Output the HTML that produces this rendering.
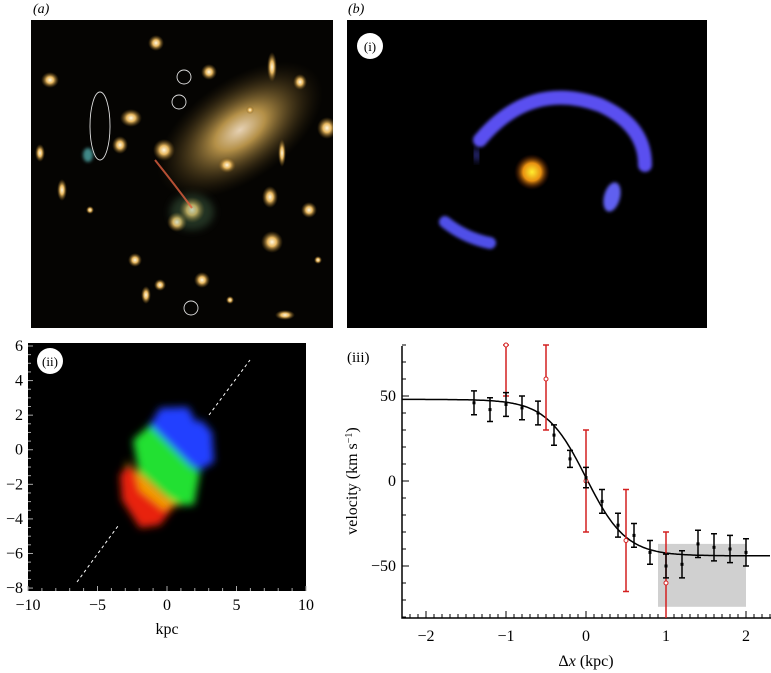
<!DOCTYPE html>
<html><head><meta charset="utf-8"><style>
body{margin:0;width:771px;height:673px;background:#fff;overflow:hidden;font-family:"Liberation Serif",serif;}
svg{position:absolute;left:0;top:0;font-family:"Liberation Serif",serif}
text{font-family:"Liberation Serif",serif}
</style></head><body>
<svg width="771" height="673" viewBox="0 0 771 673">
<defs>
<filter id="b1" x="-50%" y="-50%" width="200%" height="200%"><feGaussianBlur stdDeviation="1.5"/></filter>
<filter id="b3" x="-50%" y="-50%" width="200%" height="200%"><feGaussianBlur stdDeviation="4"/></filter>
<radialGradient id="gal"><stop offset="0" stop-color="#fff8e0"/><stop offset="0.4" stop-color="#e8b860"/><stop offset="1" stop-color="#6a4a10" stop-opacity="0"/></radialGradient>
<radialGradient id="bcg"><stop offset="0" stop-color="#ffe8c8"/><stop offset="0.3" stop-color="#c8a050"/><stop offset="1" stop-color="#403010" stop-opacity="0"/></radialGradient>
<radialGradient id="core"><stop offset="0" stop-color="#ffee30"/><stop offset="0.5" stop-color="#e89010"/><stop offset="1" stop-color="#501000" stop-opacity="0"/></radialGradient>
<clipPath id="ca"><rect x="31" y="20" width="302" height="308"/></clipPath>
<clipPath id="cii"><rect x="28" y="343" width="278" height="248"/></clipPath>
</defs>

<text x="33" y="13" font-size="14" font-style="italic">(a)</text>
<g clip-path="url(#ca)">
<rect x="31" y="20" width="302" height="308" fill="#050402"/>
<ellipse cx="240" cy="130" rx="95" ry="50" transform="rotate(-35 240 130)" fill="url(#bcg)" opacity="0.9"/>
<g fill="url(#gal)">
<ellipse cx="50" cy="80" rx="9" ry="8"/><ellipse cx="131" cy="118" rx="11" ry="9"/><ellipse cx="164" cy="150" rx="11" ry="11"/>
<ellipse cx="227" cy="165" rx="9" ry="8"/><ellipse cx="192" cy="210" rx="13" ry="13"/><ellipse cx="272" cy="67" rx="5" ry="15"/>
<ellipse cx="327" cy="128" rx="10" ry="11"/><ellipse cx="282" cy="153" rx="4" ry="14"/><ellipse cx="270" cy="197" rx="8" ry="11"/>
<ellipse cx="272" cy="242" rx="11" ry="11"/><ellipse cx="309" cy="210" rx="8" ry="8"/><ellipse cx="202" cy="280" rx="8" ry="8"/>
<ellipse cx="146" cy="295" rx="5" ry="9"/><ellipse cx="285" cy="315" rx="10" ry="5"/><ellipse cx="209" cy="72" rx="8" ry="8"/>
<ellipse cx="156" cy="43" rx="8" ry="8"/><ellipse cx="300" cy="82" rx="7" ry="8"/><ellipse cx="62" cy="190" rx="5" ry="11"/>
<ellipse cx="40" cy="153" rx="5" ry="9"/><ellipse cx="160" cy="285" rx="6" ry="6"/><ellipse cx="177" cy="222" rx="10" ry="10"/>
<ellipse cx="120" cy="145" rx="8" ry="9"/><ellipse cx="135" cy="260" rx="7" ry="7"/><ellipse cx="90" cy="210" rx="4" ry="4"/>
<ellipse cx="250" cy="110" rx="4" ry="4"/><ellipse cx="318" cy="260" rx="4" ry="4"/><ellipse cx="230" cy="300" rx="4" ry="4"/>
</g>
<ellipse cx="192" cy="212" rx="22" ry="18" fill="#5a8a60" opacity="0.35" filter="url(#b3)"/>
<path d="M155 160 Q175 185 192 208" stroke="#e06040" stroke-width="2" fill="none" opacity="0.8"/>
<ellipse cx="88" cy="155" rx="5" ry="7" fill="#5ac0c0" opacity="0.7" filter="url(#b1)"/>
<g fill="none" stroke="#ddd" stroke-width="0.9">
<circle cx="184" cy="77" r="7"/><circle cx="179" cy="102" r="7"/><circle cx="191" cy="308" r="7"/>
<ellipse cx="100" cy="126" rx="10" ry="34"/>
</g>
</g>

<text x="348" y="13" font-size="14" font-style="italic">(b)</text>
<g>
<rect x="347" y="20" width="360" height="308" fill="#000"/>
<path d="M480 140 Q530 80 600 105 Q645 125 645 165" stroke="#5a50f0" stroke-width="14" fill="none" stroke-linecap="round" filter="url(#b1)"/>
<path d="M475 150 L478 160" stroke="#4040c0" stroke-width="6" fill="none" filter="url(#b3)"/>
<ellipse cx="612" cy="197" rx="8" ry="15" fill="#6060f0" filter="url(#b1)" transform="rotate(15 612 197)"/>
<path d="M445 222 Q465 238 490 243" stroke="#5050e8" stroke-width="12" fill="none" stroke-linecap="round" filter="url(#b1)"/>
<circle cx="532" cy="172" r="18" fill="url(#core)"/>
<circle cx="370" cy="46" r="13" fill="#fff"/>
<text x="370" y="51" font-size="13" text-anchor="middle">(i)</text>
</g>

<g>
<rect x="28" y="343" width="278" height="248" fill="#000"/>
<g clip-path="url(#cii)" filter="url(#b3)">
<polygon points="150,425 160,408 188,407 196,422 201,420 212,432 214,462 200,470 190,465 175,470 150,458" fill="#2040ff"/>
<polygon points="133,440 150,425 170,445 190,465 200,472 194,505 170,505 140,480" fill="#20e030"/>
<polygon points="126,460 140,480 170,505 180,505 130,475" fill="#e0e020"/>
<polygon points="128,465 145,478 175,505 160,525 140,528 122,500 120,475" fill="#e82010"/>
<polygon points="135,470 150,485 172,505 165,510 140,490" fill="#f8c000" opacity="0.8"/>
</g>
<g stroke="#fff" stroke-width="1" stroke-dasharray="3,3">
<line x1="77" y1="582" x2="118" y2="526"/><line x1="209" y1="415" x2="250" y2="360"/>
</g>
<circle cx="50" cy="361" r="13" fill="#fff"/>
<text x="50" y="366" font-size="13" text-anchor="middle">(ii)</text>
<g id="iiticks" stroke="#aaa" stroke-width="1"></g>
<g id="iilabels" font-size="16"></g>
<text x="167" y="634" font-size="16" text-anchor="middle">kpc</text>
</g>

<g>
<text x="347" y="362" font-size="15">(iii)</text>
<g id="iii"></g>
<text transform="translate(357 481) rotate(-90)" font-size="16" text-anchor="middle">velocity (km s<tspan dy="-5" font-size="10">−1</tspan><tspan dy="5">)</tspan></text>
<text x="586" y="666" font-size="16" text-anchor="middle">Δ<tspan font-style="italic">x</tspan> (kpc)</text>
</g>
</svg>
<script>
const iiXTicks=[-10,-5,0,5,10];
const iiYTicks=[6,4,2,0,-2,-4,-6,-8];
const xTicks=[-2,-1,0,1,2];
const yTicks=[50,0,-50];
const blackX=[-1.4,-1.2,-1.0,-0.8,-0.6,-0.4,-0.2,0,0.2,0.4,0.6,0.8,1.0,1.2,1.4,1.6,1.8,2.0];
const blackV=[46,42,45,43,40,27,13,2,-12,-26,-32,-42,-50,-49,-37,-39,-40,-42];
const blackErr=[7,7,7,7,7,6,5,6,7,7,7,7,7,8,8,8,8,8];
const redX=[-1,-0.5,0,0.5,1];
const redV=[80,60,0,-35,-60];
const redLo=[50,30,-30,-65,-90];
const redHi=[80,80,30,-5,-30];
const boxX=[0.9,2.0];
const boxV=[-37,-74];
const fitA=[2,46,0.5];

const NS="http://www.w3.org/2000/svg";
function mk(parent,tag,attrs){const e=document.createElementNS(NS,tag);for(const k in attrs)e.setAttribute(k,attrs[k]);parent.appendChild(e);return e;}

const ix=k=>28+13.9*(k+10), iy=k=>346+17.29*(6-k);
const gt=document.getElementById('iiticks'), gl=document.getElementById('iilabels');
for(let k=-10;k<=10;k++){const l=mk(gt,'line',{x1:ix(k),x2:ix(k),y1:591,y2:k%5===0?586:588});}
for(let k=-8;k<=6;k+=0.5){const l=mk(gt,'line',{x1:28,x2:Number.isInteger(k/2)?33:31,y1:iy(k),y2:iy(k)});}
iiXTicks.forEach(v=>{const t=mk(gl,'text',{x:ix(v),y:610,'text-anchor':'middle'});t.textContent=v<0?'−'+(-v):v;});
iiYTicks.forEach(v=>{const t=mk(gl,'text',{x:23,y:iy(v)+5,'text-anchor':'end'});t.textContent=v<0?'−'+(-v):v;});

const X=d=>586+80*d, Y=v=>481-1.7*v;
const g=document.getElementById('iii');
const bx=mk(g,'rect',{x:X(boxX[0]),y:Y(boxV[0]),width:X(boxX[1])-X(boxX[0]),height:Y(boxV[1])-Y(boxV[0]),fill:'#d0d0d0'});

const ax=mk(g,'path',{d:'M402 346 V618 H771',stroke:'#000','stroke-width':1.5,fill:'none'});

for(let i=-23;i<=23;i++){const d=i/10;const l=mk(g,'line',{x1:X(d),x2:X(d),y1:618,y2:i%10===0?611:614,stroke:'#000'});}
for(let v=-80;v<=80;v+=10){const l=mk(g,'line',{x1:402,x2:v%50===0?409:406,y1:Y(v),y2:Y(v),stroke:'#000'});}
xTicks.forEach(v=>{const t=mk(g,'text',{x:X(v),y:641,'font-size':16,'text-anchor':'middle'});t.textContent=v<0?'−'+(-v):v;});
yTicks.forEach(v=>{const t=mk(g,'text',{x:396,y:Y(v)+5,'font-size':16,'text-anchor':'end'});t.textContent=v<0?'−'+(-v):v;});
let p='';for(let d=-2.3;d<=2.31;d+=0.02){const v=fitA[0]-fitA[1]*Math.tanh(d/fitA[2]);p+=(p?'L':'M')+X(d).toFixed(1)+' '+Y(v).toFixed(1);}
const fl=mk(g,'path',{d:p,stroke:'#000','stroke-width':1.5,fill:'none'});

redX.forEach((d,i)=>{const x=X(d);
 const e=mk(g,'path',{d:`M${x} ${Math.min(Y(redHi[i]),618)}V${Math.min(Y(redLo[i]),618)}M${x-3} ${Y(redHi[i])}h6`+(Y(redLo[i])<618?`M${x-3} ${Y(redLo[i])}h6`:''),stroke:'#d42020','stroke-width':1.5,fill:'none'});
 
 const c=mk(g,'circle',{cx:x,cy:Y(redV[i]),r:2,fill:'#fff',stroke:'#d42020','stroke-width':1});
 });
blackX.forEach((d,i)=>{const x=X(d),y1=Y(blackV[i]+blackErr[i]),y2=Y(blackV[i]-blackErr[i]);
 const e=mk(g,'path',{d:`M${x} ${y1}V${y2}M${x-3} ${y1}h6M${x-3} ${y2}h6`,stroke:'#000','stroke-width':1.5,fill:'none'});
 
 const c=mk(g,'rect',{x:x-1.5,y:Y(blackV[i])-1.5,width:3,height:3,fill:'#000'});
 });
</script>
</body></html>
